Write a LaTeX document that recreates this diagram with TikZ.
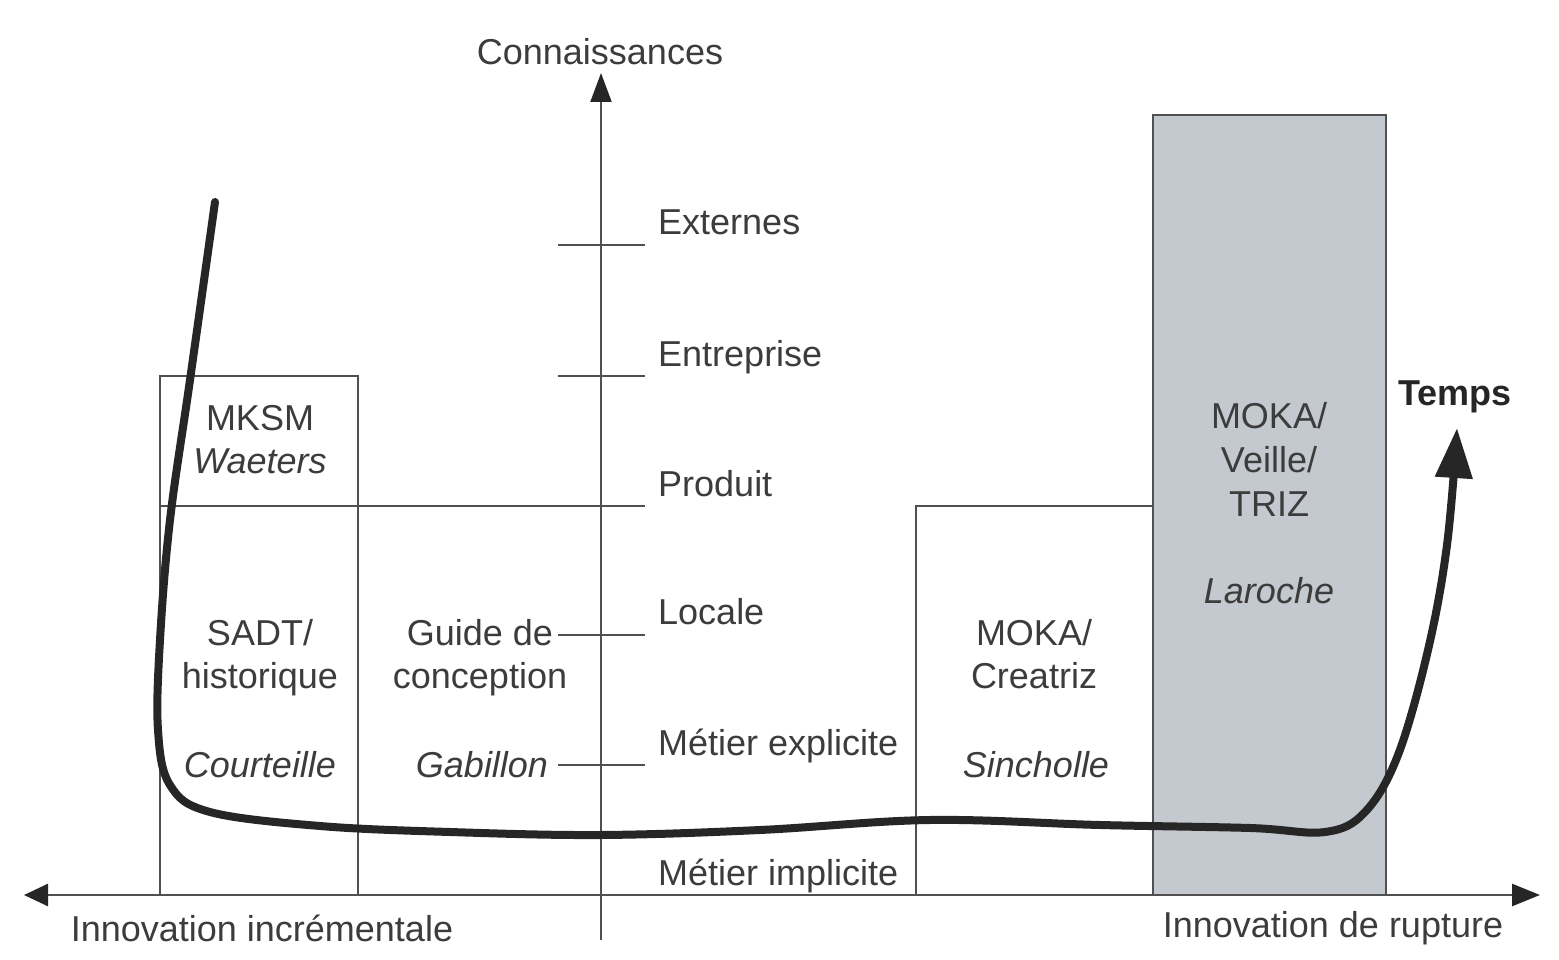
\documentclass[tikz,border=0pt]{standalone}
\usepackage{fontspec}
\setmainfont{Liberation Sans}
\usetikzlibrary{arrows.meta}
\definecolor{ink}{HTML}{3C3C3C}
\definecolor{rule}{HTML}{505050}
\definecolor{tipcol}{HTML}{262626}
\definecolor{boxgray}{HTML}{C4C8CF}
\begin{document}
\begin{tikzpicture}[x=1pt,y=-1pt,
  lbl/.style={text=ink, font=\fontsize{36}{43}\selectfont, inner sep=0pt, anchor=base},
  lbli/.style={lbl, font=\fontsize{36}{43}\selectfont\itshape},
  tick/.style={draw=rule, line width=2pt},
  frame/.style={draw=rule, line width=2pt},
  axis/.style={draw=rule, line width=2.6pt},
  timepath/.style={line width=8pt, line cap=round, draw=black!85}]
\useasboundingbox (0,0) rectangle (1559,960);

% boxes
\fill[boxgray] (1153,115) rectangle (1386,895);
\draw[frame] (1153,115) rectangle (1386,895);
\draw[frame] (916,506) rectangle (1153,895);
\draw[frame] (160,376) rectangle (358,895);
\draw[frame] (160,506) -- (645,506);

% axes
\coordinate (xl) at (24,895);
\coordinate (xr) at (1540,895);
\coordinate (yb) at (601,940);
\coordinate (yt) at (601,73);
\draw[axis, {Triangle[length=24pt,width=22pt,color=tipcol]}-{Triangle[length=28pt,width=22pt,color=tipcol]}] (xl) -- (xr);
\draw[draw=rule, line width=2.2pt, -{Triangle[length=29pt,width=21pt,color=tipcol]}] (yb) -- (yt);

% ticks on the knowledge axis
\foreach \n/\y in {t1/245, t2/376, t3/506, t4/635, t5/765, t6/895}{
  \coordinate (\n a) at (558,\y);
  \coordinate (\n b) at (645,\y);
  \draw[tick] (\n a) -- (\n b);
}

% axis labels
\node[lbl] (conn) at (600,65) {Connaissances};
\node[lbl, anchor=base west] (ext) at (658,235) {Externes};
\node[lbl, anchor=base west] (ent) at (658,366) {Entreprise};
\node[lbl, anchor=base west] (prod) at (658,496) {Produit};
\node[lbl, anchor=base west] (loc) at (658,624) {Locale};
\node[lbl, anchor=base west] (mex) at (658,755) {Métier explicite};
\node[lbl, anchor=base west] (mim) at (658,885) {Métier implicite};
\node[lbl] (inc) at (262,941) {Innovation incrémentale};
\node[lbl] (rup) at (1333,937) {Innovation de rupture};

% column contents
\node[lbl] (mksm) at (260,430) {MKSM};
\node[lbli] (wae) at (260,473) {Waeters};
\node[lbl] (sadt) at (260,645) {SADT/};
\node[lbl] (hist) at (260,688) {historique};
\node[lbli] (cour) at (260,777) {Courteille};
\node[lbl] (guide) at (480,645) {Guide de};
\node[lbl] (concep) at (480,688) {conception};
\node[lbli] (gab) at (482,777) {Gabillon};
\node[lbl] (moka1) at (1034,645) {MOKA/};
\node[lbl] (crea) at (1034,688) {Creatriz};
\node[lbli] (sinc) at (1036,777) {Sincholle};
\node[lbl] (moka2) at (1269,428) {MOKA/};
\node[lbl] (veil) at (1269,472) {Veille/};
\node[lbl] (triz) at (1269,516) {TRIZ};
\node[lbli] (laro) at (1269,603) {Laroche};
\node[lbl, font=\fontsize{36}{43}\selectfont\bfseries, text=black!85] (temps) at (1455,405) {Temps};

% time path
\draw[timepath, -{Triangle[length=50pt,width=36pt]}]
  plot[smooth, tension=0.6] coordinates {
    (215,202) (190,380) (170,520) (160,640) (158,730) (170,785) (210,812)
    (320,826) (450,832) (600,835) (760,830) (930,820) (1100,825)
    (1250,828) (1325,832) (1365,812) (1398,755) (1428,650) (1447,545) (1457,428)};
\end{tikzpicture}
\end{document}
